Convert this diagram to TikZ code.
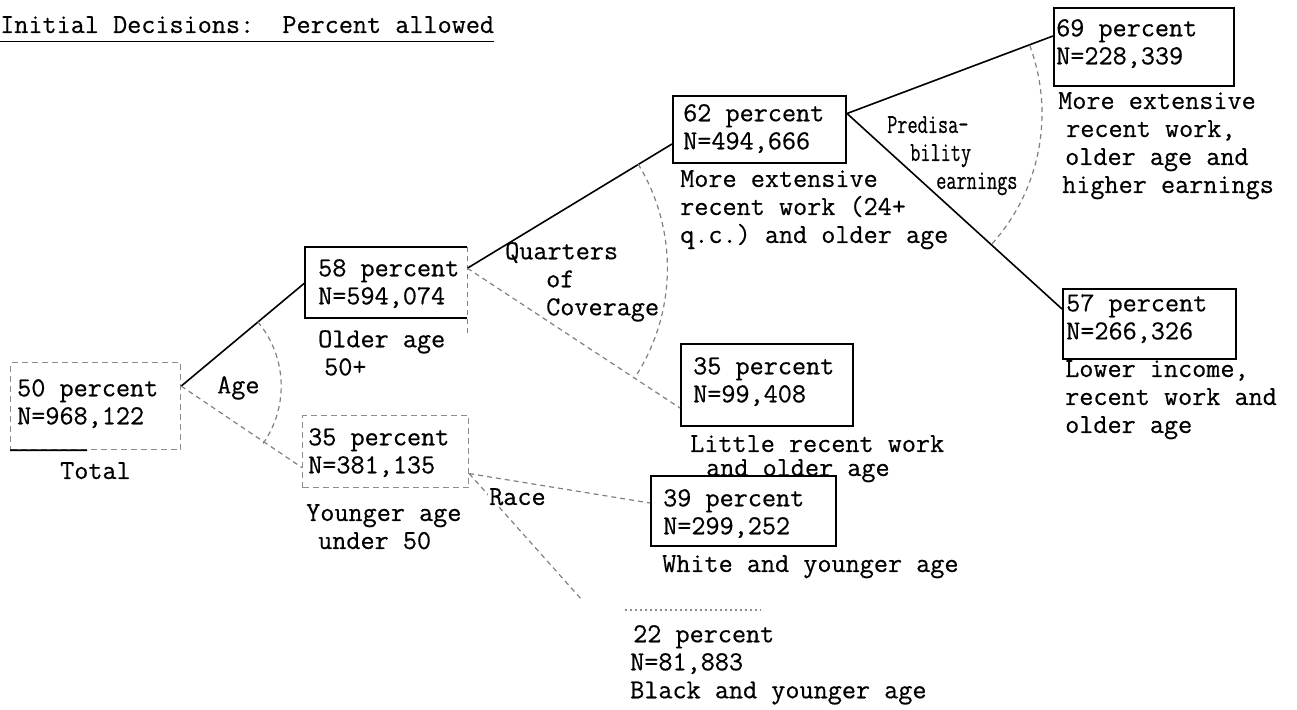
\documentclass[tikz,border=0pt]{standalone}
\usepackage{fontspec}
\setmonofont{Latin Modern Mono}[FakeBold=0.5]
\newfontfamily\condtt{Latin Modern Mono}[FakeStretch=0.72, FakeBold=0.5]
\usetikzlibrary{calc}
\tikzset{
  tt/.style={font=\fontsize{27.4}{28}\selectfont\ttfamily, inner sep=0pt, anchor=north west, align=left},
  ttc/.style={font=\fontsize{27.4}{28}\selectfont\condtt, inner sep=0pt, anchor=north west, align=left},
  boxline/.style={line width=2pt, line join=miter},
  solidbox/.style={draw, boxline, inner sep=0pt, anchor=north west},
  plainbox/.style={inner sep=0pt, anchor=north west},
  faintbox/.style={draw=black!45, line width=1.2pt, dash pattern=on 6pt off 4pt, inner sep=0pt, anchor=north west},
  link/.style={line width=1.6pt},
  faint/.style={draw=black!50, line width=1.2pt, dash pattern=on 5pt off 4pt},
}
\begin{document}
\begin{tikzpicture}[x=1pt,y=1pt]
\useasboundingbox (0,0) rectangle (1297,-709);

% title
\node[tt] (title) at (0,-16) {Initial Decisions:\ \ Percent allowed};
\draw[line width=1.3pt] ([yshift=-8pt]title.south west) -- ([yshift=-8pt]title.south east);

% boxes
\node[faintbox, minimum width=170pt, minimum height=87pt] (tot) at (10,-362) {};
\node[plainbox, minimum width=162pt, minimum height=71pt] (b58) at (305,-247) {};
\node[faintbox, minimum width=166pt, minimum height=72pt] (b35a) at (302,-415) {};
\node[solidbox, minimum width=173pt, minimum height=67pt] (b62) at (672,-95) {};
\node[solidbox, minimum width=172pt, minimum height=82pt] (b35b) at (680,-343) {};
\node[solidbox, minimum width=185pt, minimum height=70pt] (b39) at (650,-475) {};
\node[solidbox, minimum width=180pt, minimum height=78pt] (b69) at (1053,-7) {};
\node[solidbox, minimum width=173pt, minimum height=70pt] (b57) at (1062,-288) {};
\node[plainbox, minimum width=135pt, minimum height=95pt] (b22) at (625,-610) {};

% partial borders
\draw[link] (tot.south west) -- ($(tot.south west)!0.45!(tot.south east)$);
\draw[boxline] (b58.north east) -- (b58.north west) -- (b58.south west) -- (b58.south east);
\draw[faint] (b58.north east) -- ([yshift=-17pt]b58.south east);
\draw[draw=black!45, line width=1.2pt, dash pattern=on 2pt off 3pt] (b22.north west) -- (b22.north east);

% junctions
\coordinate (j1) at ([yshift=20pt]tot.east);
\coordinate (j2) at ([yshift=14.5pt]b58.east);
\coordinate (j3) at ([yshift=16pt]b62.east);
\coordinate (j4) at ([yshift=-22pt]b35a.east);
\coordinate (r2end) at (582,-600);

% connectors
\draw[link] (j1) -- (b58.west);
\draw[faint] (j1) -- ([yshift=-16pt]b35a.west);
\draw[link] (j2) -- ([yshift=-14.5pt]b62.west);
\draw[faint] (j2) -- ([yshift=-23pt]b35b.west);
\draw[link] (j3) -- ([yshift=11pt]b69.west);
\draw[link] (j3) -- ([yshift=15pt]b57.west);
\draw[faint] (j4) -- ([yshift=8pt]b39.west);
\draw[faint] (j4) -- (r2end);

% split arcs
\draw[faint] (j1) ++(40:100) arc[start angle=40, end angle=-35, radius=100];
\draw[faint] (j2) ++(31.4:200) arc[start angle=31.4, end angle=-33.1, radius=200];
\draw[faint] (j3) ++(20.4:195) arc[start angle=20.4, end angle=-42.0, radius=195];

% texts
\node[tt] (ttot) at (17,-379) {50 percent\\N=968,122};
\node[tt] (ltot) at (60,-462) {Total};
\node[tt] (t58) at (318,-259) {58 percent\\N=594,074};
\node[tt] (l58) at (318,-330) {Older age\\\hspace*{6pt}50+};
\node[tt] (t35a) at (308,-428) {35 percent\\N=381,135};
\node[tt] (l35a) at (306,-504) {Younger age\\\hspace*{12pt}under 50};
\node[tt] (t62) at (683,-104) {62 percent\\N=494,666};
\node[tt] (l62) at (680,-170) {More extensive\\recent work (24+\\q.c.) and older age};
\node[tt] (lq) at (505,-242) {Quarters\\\hspace*{41pt}of\\\hspace*{41pt}Coverage};
\node[tt] (t69) at (1056,-19) {69 percent\\N=228,339};
\node[tt] (l69) at (1058,-92) {More extensive\\\hspace*{8pt}recent work,\\\hspace*{7pt}older age and\\\hspace*{4pt}higher earnings};
\node[ttc] (lpred) at (887,-116) {Predisa-\\\hspace*{23pt}bility\\\hspace*{49pt}earnings};
\node[tt] (t57) at (1066,-294) {57 percent\\N=266,326};
\node[tt] (l57) at (1065,-360) {Lower income,\\recent work and\\older age};
\node[tt] (t35b) at (693,-357) {35 percent\\N=99,408};
\node[tt] (l35b) at (690,-435) {Little recent work\\[-4pt]\hspace*{16pt}and older age};
\node[tt] (t39) at (663,-489) {39 percent\\N=299,252};
\node[tt] (l39) at (662,-555) {White and younger age};
\node[tt] (t22) at (630,-625) {\hspace*{3pt}22 percent\\N=81,883\\Black and younger age};
\node[tt] (lage) at (217,-376) {Age};
\node[tt, fill=white, inner sep=1pt] (lrace) at (488,-487) {Race};
\end{tikzpicture}
\end{document}
